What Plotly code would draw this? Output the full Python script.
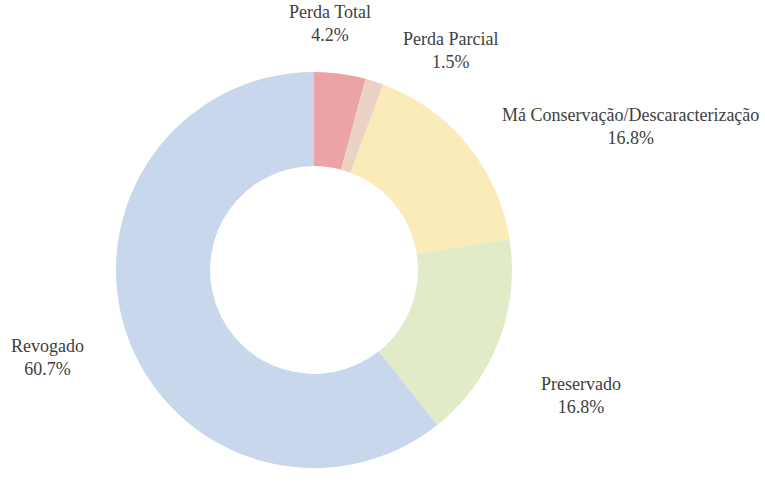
import plotly.graph_objects as go

labels = ["Perda Total", "Perda Parcial", "Má Conservação/Descaracterização", "Preservado", "Revogado"]
values = [4.2, 1.5, 16.8, 16.8, 60.7]
colors = ["#EBA3A6", "#EBD3C4", "#FBEBB8", "#E1EBC8", "#C8D7EC"]

W, H = 765, 483
# label centre positions in pixels (layout only)
label_px = [(330, 24), (450, 50), (630, 126), (581, 395), (47, 357)]

fig = go.Figure(go.Pie(
    labels=labels, values=values, sort=False, direction="clockwise", rotation=0,
    hole=0.525, marker=dict(colors=colors, line=dict(width=0)),
    textinfo="none", hoverinfo="label+percent", showlegend=False,
    domain=dict(x=[116 / W, 512 / W], y=[1 - 469 / H, 1 - 71 / H]),
))

total = sum(values)
for lab, v, (px, py) in zip(labels, values, label_px):
    fig.add_annotation(
        x=px / W, y=1 - py / H, xref="paper", yref="paper",
        text=f"{lab}<br>{v / total * 100:.1f}%", showarrow=False,
        xanchor="center", yanchor="middle", align="center",
        font=dict(family="Liberation Serif", size=18, color="#404040"),
    )

fig.update_layout(
    width=W, height=H, margin=dict(l=0, r=0, t=0, b=0),
    paper_bgcolor="white", plot_bgcolor="white",
)
fig.write_html("out.html", config={"displayModeBar": False})

# remove the default page margin so the figure fills the window exactly
with open("out.html", encoding="utf-8") as f:
    html = f.read()
html = html.replace("<head>", "<head><style>body{margin:0;}</style>", 1)
with open("out.html", "w", encoding="utf-8") as f:
    f.write(html)
